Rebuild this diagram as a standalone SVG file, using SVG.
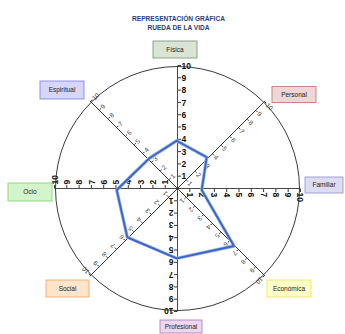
<svg xmlns="http://www.w3.org/2000/svg" width="345" height="334" viewBox="0 0 345 334">
<style>
.title{font-family:"Liberation Sans",Arial,sans-serif;font-size:6.6px;font-weight:bold;fill:#2b3f78;text-anchor:middle}
.lbl{font-family:"Liberation Sans",Arial,sans-serif;font-size:6.5px;fill:#222;text-anchor:middle}
.ax{stroke:#333;stroke-width:0.9;fill:none}
.tk{stroke:#222;stroke-width:0.9}
.nm{font-family:"Liberation Sans",Arial,sans-serif;font-size:8.5px;font-weight:bold;fill:#111}
.nd{font-family:"Liberation Sans",Arial,sans-serif;font-size:6.5px;fill:#444}
.box{stroke-width:0.9}
</style>
<defs>
<g id="sm">
<line class="ax" x1="0" y1="0" x2="0" y2="-123"/>
<g class="tk">
<line x1="0.5" y1="-12.3" x2="3.5" y2="-12.3"/><line x1="0.5" y1="-24.6" x2="3.5" y2="-24.6"/><line x1="0.5" y1="-36.9" x2="3.5" y2="-36.9"/><line x1="0.5" y1="-49.2" x2="3.5" y2="-49.2"/><line x1="0.5" y1="-61.5" x2="3.5" y2="-61.5"/><line x1="0.5" y1="-73.8" x2="3.5" y2="-73.8"/><line x1="0.5" y1="-86.1" x2="3.5" y2="-86.1"/><line x1="0.5" y1="-98.4" x2="3.5" y2="-98.4"/><line x1="0.5" y1="-110.7" x2="3.5" y2="-110.7"/><line x1="0.5" y1="-123" x2="3.5" y2="-123"/>
</g>
<g class="nm">
<text x="4" y="-9.2">1</text><text x="4" y="-21.5">2</text><text x="4" y="-33.8">3</text><text x="4" y="-46.1">4</text><text x="4" y="-58.4">5</text><text x="4" y="-70.7">6</text><text x="4" y="-83">7</text><text x="4" y="-95.3">8</text><text x="4" y="-107.6">9</text><text x="4" y="-119.9">10</text>
</g>
</g>
<g id="sd">
<line class="ax" x1="0" y1="0" x2="0" y2="-124"/>
<g class="tk">
<line x1="0.5" y1="-12.3" x2="2.5" y2="-12.3"/><line x1="0.5" y1="-24.6" x2="2.5" y2="-24.6"/><line x1="0.5" y1="-36.9" x2="2.5" y2="-36.9"/><line x1="0.5" y1="-49.2" x2="2.5" y2="-49.2"/><line x1="0.5" y1="-61.5" x2="2.5" y2="-61.5"/><line x1="0.5" y1="-73.8" x2="2.5" y2="-73.8"/><line x1="0.5" y1="-86.1" x2="2.5" y2="-86.1"/><line x1="0.5" y1="-98.4" x2="2.5" y2="-98.4"/><line x1="0.5" y1="-110.7" x2="2.5" y2="-110.7"/><line x1="0.5" y1="-123" x2="2.5" y2="-123"/>
</g>
<g class="nd">
<text x="3.5" y="-10">1</text><text x="3.5" y="-22.3">2</text><text x="3.5" y="-34.6">3</text><text x="3.5" y="-46.9">4</text><text x="3.5" y="-59.2">5</text><text x="3.5" y="-71.5">6</text><text x="3.5" y="-83.8">7</text><text x="3.5" y="-96.1">8</text><text x="3.5" y="-108.4">9</text><text x="3.5" y="-120.7">10</text>
</g>
</g>
</defs>

<text class="title" x="178.5" y="21">REPRESENTACIÓN GRÁFICA</text>
<text class="title" x="178.5" y="29.5">RUEDA DE LA VIDA</text>

<g id="wheel">
<circle cx="177.5" cy="188.5" r="122" fill="none" stroke="#3a3a3a" stroke-width="1"/>
<use href="#sm" transform="translate(177.5 188.5)"/>
<use href="#sd" transform="translate(177.5 188.5) rotate(45)"/>
<use href="#sm" transform="translate(177.5 188.5) rotate(90)"/>
<use href="#sd" transform="translate(177.5 188.5) rotate(135)"/>
<use href="#sm" transform="translate(177.5 188.5) rotate(180)"/>
<use href="#sd" transform="translate(177.5 188.5) rotate(225)"/>
<use href="#sm" transform="translate(177.5 188.5) rotate(270)"/>
<use href="#sd" transform="translate(177.5 188.5) rotate(315)"/>
</g>

<g id="connectors">
<polygon points="176.7,140.7 206.7,157.3 201.7,190 234,246 176.7,258.3 127.3,237.3 116.7,190 149.3,158.3" fill="none" stroke="#9db6e6" stroke-width="3.4" stroke-linejoin="round"/>
<polygon points="176.7,140.7 206.7,157.3 201.7,190 234,246 176.7,258.3 127.3,237.3 116.7,190 149.3,158.3" fill="none" stroke="#3b66c4" stroke-width="1.8" stroke-linejoin="round"/>
</g>

<g id="fisica"><rect class="box" x="153" y="41" width="44" height="17" fill="#dae4d5" stroke="#7f9c7f"/><text class="lbl" x="175" y="51.8">Física</text></g>
<g id="personal"><rect class="box" x="272" y="86.5" width="44" height="16" fill="#f2d5d5" stroke="#c07c7c"/><text class="lbl" x="294" y="96.8">Personal</text></g>
<g id="familiar"><rect class="box" x="305" y="177" width="38" height="16" fill="#dcdcf2" stroke="#9a9ad0"/><text class="lbl" x="324" y="187.3">Familiar</text></g>
<g id="economica"><rect class="box" x="267" y="280" width="44" height="17" fill="#ffffc8" stroke="#e6e66e"/><text class="lbl" x="289" y="290.8">Económica</text></g>
<g id="profesional"><rect class="box" x="160" y="320" width="42" height="13" fill="#ecd8ee" stroke="#b47fc0"/><text class="lbl" x="181" y="328.8">Profesional</text></g>
<g id="social"><rect class="box" x="46" y="280" width="43" height="17" fill="#ffe4cc" stroke="#f0aa70"/><text class="lbl" x="67.5" y="290.8">Social</text></g>
<g id="ocio"><rect class="box" x="8" y="183" width="44" height="18" fill="#d4f5cc" stroke="#88d878"/><text class="lbl" x="30" y="194.3">Ocio</text></g>
<g id="espiritual"><rect class="box" x="40" y="81" width="44" height="18" fill="#d6d6fa" stroke="#8888e8"/><text class="lbl" x="62" y="92.3">Espiritual</text></g>
</svg>
